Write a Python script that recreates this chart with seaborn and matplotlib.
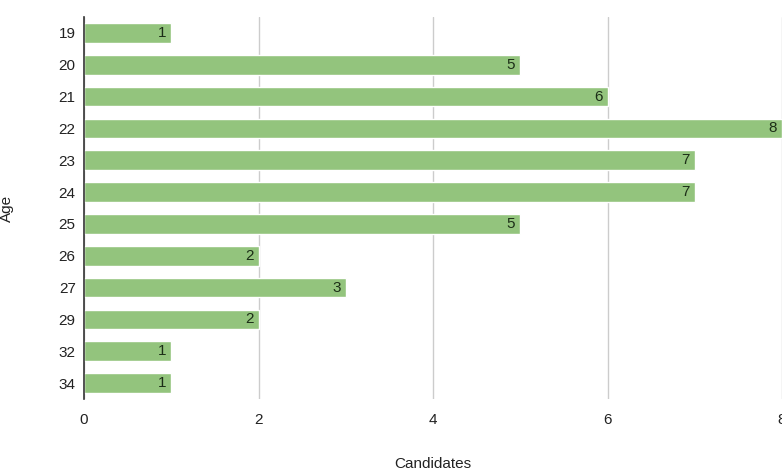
import matplotlib
matplotlib.use("Agg")
import matplotlib.pyplot as plt
import seaborn as sns
import pandas as pd

ages = ["19", "20", "21", "22", "23", "24", "25", "26", "27", "29", "32", "34"]
candidates = [1, 5, 6, 8, 7, 7, 5, 2, 3, 2, 1, 1]
x_ticks = [0, 2, 4, 6, 8]

df = pd.DataFrame({"Age": ages, "Candidates": candidates})

sns.set_style("white")
plt.rcParams["font.family"] = ["Liberation Sans", "DejaVu Sans"]

fig = plt.figure(figsize=(7.82, 4.71), dpi=100)
ax = fig.add_axes([84 / 782, 1 - 399 / 471, 1 - 84 / 782, (399 - 17) / 471])

sns.barplot(data=df, y="Age", x="Candidates", orient="h", color="#93c47d",
            saturation=1, width=0.62, ax=ax, zorder=3)

ax.set_xlim(0, 8)
ax.set_ylim(11.5, -0.5)
ax.set_xticks(x_ticks)
ax.set_xticklabels([str(t) for t in x_ticks], fontsize=11, color="#222222")
ax.tick_params(axis="y", labelsize=11, colors="#222222", length=0, pad=6)
ax.tick_params(axis="x", length=0, pad=10)
ax.grid(axis="x", color="#cccccc", linewidth=1, zorder=0)
for s in ["top", "right", "bottom"]:
    ax.spines[s].set_visible(False)
ax.spines["left"].set_color("#333333")
ax.spines["left"].set_linewidth(1.2)
ax.spines["left"].set_zorder(5)

for i, v in enumerate(candidates):
    ax.text(v - 0.06, i, str(v), ha="right", va="center", fontsize=11,
            color="#1c2e17", zorder=6)

ax.set_xlabel("Candidates", fontsize=11, color="#222222", labelpad=22)
ax.set_ylabel("Age", fontsize=11, color="#222222")
ax.yaxis.set_label_coords(-0.1, 0.5)

fig.savefig("out.png", dpi=100)
